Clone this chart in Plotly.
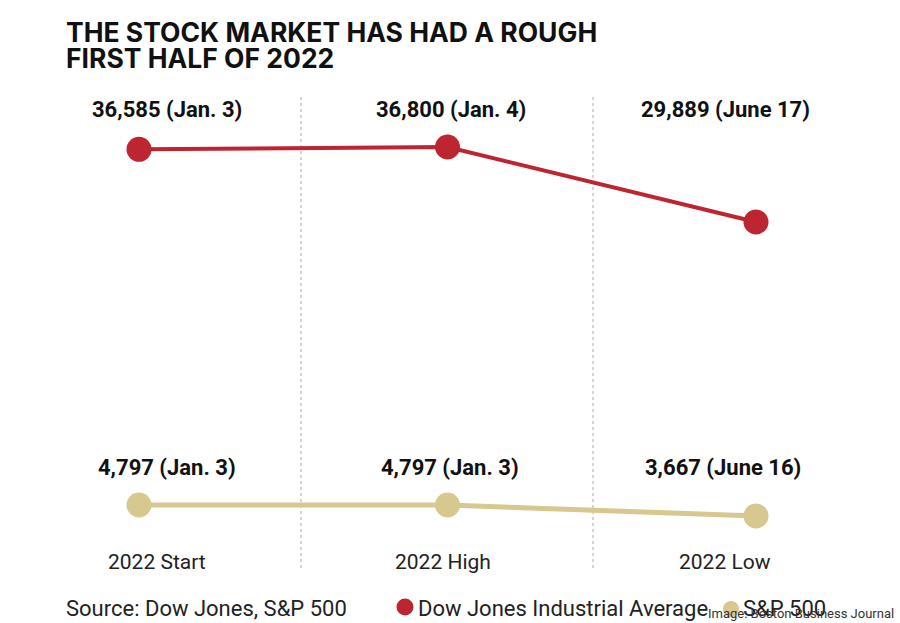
import plotly.graph_objects as go

categories = ["2022 Start", "2022 High", "2022 Low"]
dow_values = [36585, 36800, 29889]
dow_labels = ["36,585 (Jan. 3)", "36,800 (Jan. 4)", "29,889 (June 17)"]
sp_values = [4797, 4797, 3667]
sp_labels = ["4,797 (Jan. 3)", "4,797 (Jan. 3)", "3,667 (June 16)"]

RED = "#BD2531"
TAN = "#D6C88F"
FONT = "Roboto"
TFONT = "Inter"
W, H = 900, 623

xs = list(range(len(categories)))

fig = go.Figure()
fig.add_trace(go.Scatter(
    x=xs, y=dow_values, mode="lines+markers", yaxis="y",
    line=dict(color=RED, width=4), marker=dict(color=RED, size=25),
    showlegend=False, hoverinfo="skip"))
fig.add_trace(go.Scatter(
    x=xs, y=sp_values, mode="lines+markers", yaxis="y2",
    line=dict(color=TAN, width=5), marker=dict(color=TAN, size=25),
    showlegend=False, hoverinfo="skip"))

def py(p):
    return 1 - p / H

def pxx(p):
    return p / W

ann = []
ann.append(dict(text="<b>THE STOCK MARKET HAS HAD A ROUGH</b>", x=pxx(64), y=py(32),
                xref="paper", yref="paper", xanchor="left", yanchor="middle",
                showarrow=False, font=dict(family=TFONT, size=26.5, color="#111")))
ann.append(dict(text="<b>FIRST HALF OF 2022</b>", x=pxx(64), y=py(58),
                xref="paper", yref="paper", xanchor="left", yanchor="middle",
                showarrow=False, font=dict(family=TFONT, size=26.5, color="#111")))

dow_shift = [28, 3, -31]
sp_shift = [28, 2, -33]
cat_shift = [18, -5, -31]
for i in xs:
    ann.append(dict(text="<b>" + dow_labels[i] + "</b>", x=i, y=py(109), xref="x", yref="paper",
                    xshift=dow_shift[i], showarrow=False, xanchor="center", yanchor="middle",
                    font=dict(family=FONT, size=22, color="#111")))
    ann.append(dict(text="<b>" + sp_labels[i] + "</b>", x=i, y=py(467), xref="x", yref="paper",
                    xshift=sp_shift[i], showarrow=False, xanchor="center", yanchor="middle",
                    font=dict(family=FONT, size=22, color="#111")))
    ann.append(dict(text=categories[i], x=i, y=py(562), xref="x", yref="paper",
                    xshift=cat_shift[i], showarrow=False, xanchor="center", yanchor="middle",
                    font=dict(family=FONT, size=21, color="#222")))

ann.append(dict(text="Source: Dow Jones, S&P 500", x=pxx(64), y=py(608), xref="paper", yref="paper",
                xanchor="left", yanchor="middle", showarrow=False,
                font=dict(family=FONT, size=22, color="#222")))
ann.append(dict(text="Dow Jones Industrial Average",
                x=pxx(416), y=py(608), xref="paper", yref="paper",
                xanchor="left", yanchor="middle", showarrow=False,
                font=dict(family=FONT, size=22, color="#222")))
ann.append(dict(text="S&P 500",
                x=pxx(741), y=py(608), xref="paper", yref="paper",
                xanchor="left", yanchor="middle", showarrow=False,
                font=dict(family=FONT, size=22, color="#222")))
ann.append(dict(text="Image: Boston Business Journal", x=pxx(896), y=py(613), xref="paper", yref="paper",
                xanchor="right", yanchor="middle", showarrow=False,
                font=dict(family=FONT, size=13, color="#333")))

shapes = []
for xp in [301, 593]:
    shapes.append(dict(type="line", xref="paper", yref="paper", x0=pxx(xp), x1=pxx(xp),
                       y0=py(97), y1=py(570), line=dict(color="#aaa", width=1, dash="dot"),
                       layer="below"))
for cx, cy, r, col in [(405, 607, 8.5, RED), (731, 609, 8, TAN)]:
    shapes.append(dict(type="circle", xref="paper", yref="paper",
                       x0=pxx(cx - r), x1=pxx(cx + r), y0=py(cy + r), y1=py(cy - r),
                       fillcolor=col, line=dict(width=0)))

px_per_unit = 308.5
x0 = -139 / px_per_unit
x1 = (W - 139) / px_per_unit

fig.update_layout(
    width=W, height=H,
    margin=dict(l=0, r=0, t=0, b=0),
    paper_bgcolor="white", plot_bgcolor="white",
    xaxis=dict(range=[x0, x1], visible=False, fixedrange=True),
    yaxis=dict(range=[-7063, 50346], visible=False, fixedrange=True),
    yaxis2=dict(range=[-7322, 56661], visible=False, overlaying="y", fixedrange=True),
    annotations=ann, shapes=shapes,
    showlegend=False,
)

fig.write_html("out.html", config={"displayModeBar": False},
               post_script="document.body.style.margin='0';document.body.style.padding='0';")
